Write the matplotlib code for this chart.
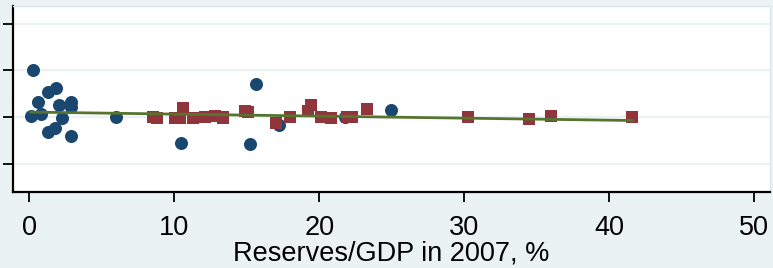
import matplotlib
matplotlib.use("Agg")
import matplotlib.pyplot as plt

# Blue circles (x = reserves/GDP %, y = outcome)
blue_x = [0.28, 0.58, 0.10, 0.81, 1.31, 1.82, 2.05, 2.86, 2.88, 2.23, 1.31, 1.77, 2.86,
          5.96, 10.46, 15.22, 15.61, 17.24, 21.77, 24.92]
blue_y = [1.01, 0.33, 0.02, 0.06, 0.54, 0.63, 0.26, 0.33, 0.22, -0.03, -0.33, -0.23, -0.40,
          0.01, -0.55, -0.58, 0.71, -0.18, 0.01, 0.15]

# Red squares
red_x = [8.55, 8.79, 10.05, 10.39, 10.62, 11.31, 12.12, 12.81, 13.38, 13.34, 14.88, 15.10,
         16.99, 17.98, 19.24, 19.41, 20.10, 20.81, 21.89, 22.28, 23.31, 30.23, 34.43, 35.98, 41.59]
red_y = [0.01, -0.03, -0.03, -0.03, 0.19, -0.03, 0.01, 0.02, 0.01, -0.03, 0.13, 0.11,
         -0.12, -0.01, 0.13, 0.26, -0.01, -0.03, 0.01, -0.01, 0.17, -0.01, -0.04, 0.02, -0.01]

# Fitted line endpoints
fit_x = [0.10, 41.59]
fit_y = [0.105, -0.075]

x_ticks = [0, 10, 20, 30, 40, 50]
y_ticks = [-1, 0, 1, 2]
x_label = "Reserves/GDP in 2007, %"

plt.rcParams['font.family'] = ['Liberation Sans', 'DejaVu Sans']

BG = "#EAF2F3"
fig = plt.figure(figsize=(7.73, 2.68), dpi=100, facecolor=BG)
W, H = 773, 268
ax = fig.add_axes([13 / W, (H - 192) / H, (770 - 13) / W, (192 - 6) / H])
ax.set_facecolor("white")

ax.set_xlim(-1.124, 51.08)
ax.set_ylim(-1.607, 2.378)

ax.set_yticks(y_ticks)
ax.set_yticklabels([])
ax.set_xticks(x_ticks)
ax.set_xticklabels([str(t) for t in x_ticks])
ax.grid(axis="y", color=BG, linewidth=1.6)
ax.set_axisbelow(True)

ax.scatter(blue_x, blue_y, s=88, marker="o", color="#1a476f", linewidths=0, zorder=3)
ax.scatter(red_x, red_y, s=72, marker="s", color="#90353b", linewidths=0, zorder=4)
ax.plot(fit_x, fit_y, color="#55752f", linewidth=2, zorder=5)

for side in ["top", "right"]:
    ax.spines[side].set_color("#dde6e8")
    ax.spines[side].set_linewidth(1)
for side in ["left", "bottom"]:
    ax.spines[side].set_color("black")
    ax.spines[side].set_linewidth(1.6)

ax.tick_params(axis="both", direction="out", length=7.5, width=1.3, color="black")
ax.tick_params(axis="x", labelsize=19.5, pad=9)
ax.set_xlabel(x_label, fontsize=19.5, labelpad=-0.5)

fig.savefig("out.png", dpi=100, facecolor=BG)
